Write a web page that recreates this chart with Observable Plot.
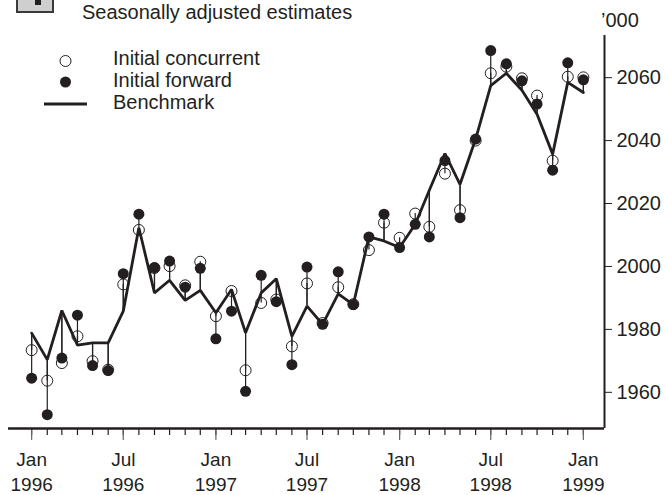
<!DOCTYPE html>
<html>
<head>
<meta charset="utf-8">
<script src="https://cdn.jsdelivr.net/npm/d3@7"></script>
<script src="https://cdn.jsdelivr.net/npm/@observablehq/plot@0.6"></script>
<style>
  html, body { margin: 0; padding: 0; background: #fff; }
  #wrap { position: relative; width: 665px; height: 495px; overflow: hidden; background: #fff; }
  #over { position: absolute; left: 0; top: 0; pointer-events: none; }
  #over text { font-family: "Liberation Sans", Arial, sans-serif; font-size: 20px; fill: #231f20; }
</style>
</head>
<body>
<div id="wrap"></div>
<script>
// ---- data ----
const months = [
  "1996-01","1996-02","1996-03","1996-04","1996-05","1996-06","1996-07","1996-08","1996-09","1996-10","1996-11","1996-12",
  "1997-01","1997-02","1997-03","1997-04","1997-05","1997-06","1997-07","1997-08","1997-09","1997-10","1997-11","1997-12",
  "1998-01","1998-02","1998-03","1998-04","1998-05","1998-06","1998-07","1998-08","1998-09","1998-10","1998-11","1998-12",
  "1999-01"
];
const benchmark = [
  1978.8, 1970.4, 1986.0, 1975.0, 1975.7, 1975.7, 1985.8, 2012.3, 1991.6, 1995.6, 1989.2, 1992.4,
  1985.3, 1992.7, 1978.9, 1991.6, 1996.1, 1977.8, 1987.4, 1981.6, 1991.3, 1987.9, 2009.4, 2008.1,
  2006.0, 2013.4, 2024.2, 2035.9, 2026.1, 2040.5, 2057.5, 2061.4, 2056.0, 2048.4, 2035.7, 2058.5,
  2055.3
];
const initialConcurrent = [
  1973.4, 1963.7, 1969.3, 1977.8, 1969.9, 1967.2, 1994.3, 2011.6, 1999.5, 2000.1, 1994.0, 2001.5,
  1984.2, 1992.2, 1967.0, 1988.4, 1989.5, 1974.6, 1994.6, 1982.0, 1993.4, 1988.0, 2005.2, 2013.9,
  2009.1, 2016.8, 2012.6, 2029.5, 2017.9, 2040.0, 2061.4, 2063.5, 2059.8, 2054.3, 2033.6, 2060.3,
  2060.1
];
const initialForward = [
  1964.5, 1952.9, 1970.9, 1984.5, 1968.5, 1966.9, 1997.7, 2016.6, 1999.6, 2001.7, 1993.4, 1999.4,
  1977.0, 1985.8, 1960.3, 1997.2, 1988.8, 1968.8, 1999.8, 1981.6, 1998.3, 1987.9, 2009.4, 2016.6,
  2006.0, 2013.4, 2009.4, 2033.6, 2015.5, 2040.5, 2068.6, 2064.4, 2059.0, 2051.6, 2030.6, 2064.7,
  2059.3
];
const yTicks = [1960, 1980, 2000, 2020, 2040, 2060];
const legendLabels = ["Initial concurrent", "Initial forward", "Benchmark"];
const title = "Seasonally adjusted estimates";
const unitLabel = "\u2019000";

// ---- build table ----
const parse = d3.utcParse("%Y-%m");
const data = months.map((m, i) => ({
  date: parse(m),
  bench: benchmark[i],
  conc: initialConcurrent[i],
  fwd: initialForward[i]
}));

const ink = "#231f20";
const xDomain = [new Date(Date.UTC(1995, 10, 16)), new Date(Date.UTC(1999, 1, 12))];
const yDomain = [1948.5, 2073.4];
const minorTicks = d3.utcMonth.range(parse("1996-01"), parse("1999-02"));
const majorTicks = d3.utcMonth.every(6).range(parse("1996-01"), parse("1999-02"));
const mNames = ["Jan","Feb","Mar","Apr","May","Jun","Jul","Aug","Sep","Oct","Nov","Dec"];

const chart = Plot.plot({
  width: 665,
  height: 495,
  marginTop: 35,
  marginBottom: 67,
  marginLeft: 8,
  marginRight: 61,
  style: { fontFamily: "'Liberation Sans', Arial, sans-serif", fontSize: "20px", color: ink, background: "white" },
  x: { type: "utc", domain: xDomain },
  y: { domain: yDomain },
  marks: [
    Plot.axisX({ ticks: minorTicks, tickSize: 7, tickFormat: () => "", stroke: ink, strokeWidth: 1.2, label: null }),
    Plot.axisX({
      ticks: majorTicks, tickSize: 12, tickPadding: 8, stroke: "#666", strokeWidth: 1.2, label: null,
      lineHeight: 1.3, fill: ink, fontSize: 19,
      tickFormat: d => mNames[d.getUTCMonth()] + "\n" + d.getUTCFullYear()
    }),
    Plot.axisY({ anchor: "right", ticks: yTicks, tickSize: 7, tickPadding: 5, tickFormat: d => String(d), label: null, stroke: ink, fill: ink }),
    Plot.ruleY([yDomain[0]], { stroke: ink, strokeWidth: 2.5 }),
    Plot.ruleX([xDomain[1]], { stroke: ink, strokeWidth: 2 }),
    Plot.ruleX(data, { x: "date", y1: "bench", y2: "conc", stroke: ink, strokeWidth: 1.2 }),
    Plot.ruleX(data, { x: "date", y1: "bench", y2: "fwd", stroke: ink, strokeWidth: 1.2 }),
    Plot.line(data, { x: "date", y: "bench", stroke: ink, strokeWidth: 2.8, strokeLinejoin: "miter" }),
    Plot.dot(data, { x: "date", y: "conc", r: 5.5, fill: "none", stroke: ink, strokeWidth: 1 }),
    Plot.dot(data, { x: "date", y: "fwd", r: 5.5, fill: ink, stroke: "none" })
  ]
});

const wrap = document.getElementById("wrap");
wrap.appendChild(chart);

// ---- overlay: title, legend, unit label ----
const ns = "http://www.w3.org/2000/svg";
const over = document.createElementNS(ns, "svg");
over.setAttribute("id", "over");
over.setAttribute("width", 665);
over.setAttribute("height", 495);
function el(name, attrs, text) {
  const e = document.createElementNS(ns, name);
  for (const k in attrs) e.setAttribute(k, attrs[k]);
  if (text != null) e.textContent = text;
  over.appendChild(e);
  return e;
}
// title box (cut off at top)
el("rect", { x: 17, y: -20, width: 36, height: 32, fill: "#cfcfcf", stroke: "#3a3a3a", "stroke-width": 2 });
el("rect", { x: 35, y: -10, width: 6, height: 15, fill: ink });
el("text", { x: 82, y: 18.5 }, title);
// legend
el("circle", { cx: 65.5, cy: 61, r: 5.5, fill: "none", stroke: ink, "stroke-width": 1 });
el("circle", { cx: 65.5, cy: 82, r: 5.5, fill: ink });
el("line", { x1: 44, x2: 87, y1: 104, y2: 104, stroke: ink, "stroke-width": 2.8 });
el("text", { x: 113, y: 65 }, legendLabels[0]);
el("text", { x: 113, y: 86.5 }, legendLabels[1]);
el("text", { x: 113, y: 108.5 }, legendLabels[2]);
// unit label
el("text", { x: 601, y: 27 }, unitLabel);
wrap.appendChild(over);
</script>
</body>
</html>
